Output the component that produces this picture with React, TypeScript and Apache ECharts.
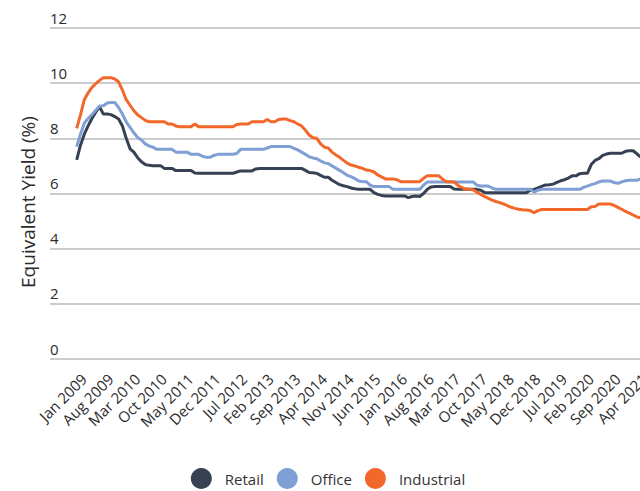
import React, { useEffect, useRef } from "react";
import * as echarts from "echarts";

const MONTHS = ["Jan", "Feb", "Mar", "Apr", "May", "Jun", "Jul", "Aug", "Sep", "Oct", "Nov", "Dec"];
// Axis runs Mar 2008 .. Jun 2021 (monthly); data starts Oct 2008
const AXIS_START_YEAR = 2008;
const AXIS_START_MONTH = 2; // Mar
const AXIS_LENGTH = 160;
const DATA_OFFSET = 7; // Oct 2008

const TICK_LABELS = [
  "Jan 2009", "Aug 2009", "Mar 2010", "Oct 2010", "May 2011", "Dec 2011", "Jul 2012",
  "Feb 2013", "Sep 2013", "Apr 2014", "Nov 2014", "Jun 2015", "Jan 2016", "Aug 2016",
  "Mar 2017", "Oct 2017", "May 2018", "Dec 2018", "Jul 2019", "Feb 2020", "Sep 2020", "Apr 2021",
];

const Y_TITLE = "Equivalent Yield (%)";

const RETAIL = [
  7.22, 7.75, 8.15, 8.45, 8.72, 8.95, 9.15, 8.88, 8.88, 8.86,
  8.79, 8.7, 8.45, 8.0, 7.62, 7.5, 7.3, 7.15, 7.05, 7.02,
  7.01, 7.01, 7.01, 6.91, 6.91, 6.91, 6.83, 6.83, 6.83, 6.83,
  6.83, 6.74, 6.73, 6.73, 6.73, 6.73, 6.73, 6.73, 6.73, 6.73,
  6.73, 6.73, 6.78, 6.82, 6.82, 6.82, 6.82, 6.89, 6.91, 6.91,
  6.91, 6.91, 6.91, 6.91, 6.91, 6.91, 6.91, 6.91, 6.91, 6.91,
  6.84, 6.76, 6.75, 6.73, 6.66, 6.59, 6.59, 6.48, 6.4, 6.32,
  6.28, 6.25, 6.2, 6.17, 6.15, 6.15, 6.15, 6.15, 6.03, 5.97,
  5.93, 5.91, 5.91, 5.91, 5.91, 5.91, 5.91, 5.85, 5.89, 5.91,
  5.89, 6.0, 6.15, 6.24, 6.25, 6.25, 6.25, 6.25, 6.25, 6.16,
  6.15, 6.15, 6.15, 6.15, 6.15, 6.15, 6.12, 6.04, 6.03, 6.03,
  6.03, 6.03, 6.03, 6.03, 6.03, 6.03, 6.03, 6.03, 6.03, 6.12,
  6.15, 6.2, 6.26, 6.31, 6.32, 6.34, 6.4, 6.46, 6.5, 6.56,
  6.64, 6.64, 6.72, 6.73, 6.73, 7.05, 7.2, 7.26, 7.38, 7.43,
  7.46, 7.46, 7.46, 7.46, 7.53, 7.55, 7.55, 7.44, 7.32,
];

const OFFICE = [
  7.7, 8.15, 8.55, 8.72, 8.86, 9.02, 9.17, 9.18, 9.28, 9.3,
  9.3, 9.12, 8.88, 8.6, 8.4, 8.2, 8.03, 7.94, 7.8, 7.72,
  7.68, 7.6, 7.6, 7.6, 7.6, 7.6, 7.5, 7.5, 7.5, 7.5,
  7.42, 7.42, 7.42, 7.35, 7.31, 7.31, 7.38, 7.42, 7.42, 7.42,
  7.42, 7.42, 7.45, 7.6, 7.6, 7.6, 7.6, 7.6, 7.6, 7.6,
  7.65, 7.7, 7.7, 7.7, 7.7, 7.7, 7.7, 7.64, 7.58, 7.5,
  7.42, 7.33, 7.29, 7.26, 7.18, 7.11, 7.09, 7.0, 6.92, 6.84,
  6.75, 6.66, 6.61, 6.54, 6.45, 6.43, 6.43, 6.3, 6.25, 6.25,
  6.25, 6.25, 6.25, 6.15, 6.15, 6.15, 6.15, 6.15, 6.15, 6.15,
  6.15, 6.3, 6.42, 6.42, 6.42, 6.42, 6.42, 6.42, 6.42, 6.42,
  6.42, 6.42, 6.42, 6.42, 6.42, 6.3, 6.27, 6.27, 6.27, 6.2,
  6.15, 6.15, 6.15, 6.15, 6.15, 6.15, 6.15, 6.15, 6.15, 6.15,
  6.05, 6.12, 6.15, 6.15, 6.15, 6.15, 6.15, 6.15, 6.15, 6.15,
  6.15, 6.15, 6.15, 6.22, 6.27, 6.32, 6.36, 6.42, 6.45, 6.45,
  6.45, 6.4, 6.37, 6.42, 6.46, 6.48, 6.48, 6.48, 6.53,
];

const INDUSTRIAL = [
  8.36, 8.85, 9.4, 9.65, 9.85, 9.98, 10.1, 10.2, 10.2, 10.2,
  10.15, 10.05, 9.75, 9.4, 9.2, 9.0, 8.85, 8.75, 8.65, 8.6,
  8.6, 8.6, 8.6, 8.6, 8.52, 8.52, 8.45, 8.42, 8.42, 8.42,
  8.42, 8.52, 8.42, 8.42, 8.42, 8.42, 8.42, 8.42, 8.42, 8.42,
  8.42, 8.42, 8.5, 8.52, 8.52, 8.52, 8.6, 8.6, 8.6, 8.6,
  8.68, 8.6, 8.6, 8.68, 8.7, 8.7, 8.64, 8.6, 8.52, 8.45,
  8.3, 8.12, 8.02, 8.0, 7.8, 7.68, 7.65, 7.5, 7.4, 7.31,
  7.2, 7.1, 7.03, 7.0, 6.95, 6.91, 6.85, 6.83, 6.78, 6.67,
  6.6, 6.53, 6.53, 6.53, 6.5, 6.43, 6.43, 6.43, 6.43, 6.43,
  6.43, 6.55, 6.64, 6.64, 6.64, 6.64, 6.52, 6.43, 6.43, 6.42,
  6.3, 6.22, 6.16, 6.15, 6.14, 6.05, 5.97, 5.89, 5.82, 5.76,
  5.71, 5.67, 5.62, 5.56, 5.5, 5.46, 5.43, 5.41, 5.4, 5.38,
  5.3, 5.38, 5.42, 5.42, 5.42, 5.42, 5.42, 5.42, 5.42, 5.42,
  5.42, 5.42, 5.42, 5.42, 5.42, 5.52, 5.53, 5.62, 5.62, 5.62,
  5.62, 5.57, 5.5, 5.43, 5.35, 5.29, 5.22, 5.15, 5.12,
];

const SERIES_NAMES = ["Retail", "Office", "Industrial"];
const SERIES_COLORS = ["#364154", "#7f9fd5", "#f2682a"];

const CATEGORIES: string[] = Array.from({ length: AXIS_LENGTH }, (_, i) => {
  const t = AXIS_START_MONTH + i;
  return `${MONTHS[t % 12]} ${AXIS_START_YEAR + Math.floor(t / 12)}`;
});

function align(values: number[]): (number | null)[] {
  return CATEGORIES.map((_, i) => {
    const k = i - DATA_OFFSET;
    return k >= 0 && k < values.length ? values[k] : null;
  });
}

const FONT = "'Open Sans', 'Noto Sans', sans-serif";

export default function App() {
  const ref = useRef<HTMLDivElement>(null);
  useEffect(() => {
    if (!ref.current) return;
    const chart = echarts.init(ref.current, undefined, { renderer: "svg" });
    const data = [RETAIL, OFFICE, INDUSTRIAL];
    chart.setOption({
      animation: false,
      backgroundColor: "#ffffff",
      textStyle: { fontFamily: FONT },
      grid: { left: 50, right: 0, top: 28, bottom: 132, containLabel: false },
      graphic: [
        {
          type: "text",
          x: 28,
          y: 202,
          rotation: Math.PI / 2,
          style: {
            text: Y_TITLE,
            fontSize: 19,
            fontFamily: FONT,
            fill: "#2b2b2b",
            align: "center",
            verticalAlign: "middle",
          },
        },
      ],
      legend: {
        data: SERIES_NAMES,
        top: 463,
        left: "center",
        icon: "circle",
        itemWidth: 21,
        itemHeight: 21,
        itemGap: 13,
        textStyle: { fontSize: 15, color: "#333333", fontFamily: FONT, padding: [0, 0, 0, 8] },
      },
      xAxis: {
        type: "category",
        data: CATEGORIES,
        boundaryGap: false,
        axisLine: { show: false },
        axisTick: { show: false },
        splitLine: { show: false },
        axisLabel: {
          interval: (_: number, value: string) => TICK_LABELS.includes(value),
          rotate: 45,
          margin: 13,
          fontSize: 15,
          color: "#2b2b2b",
          fontFamily: FONT,
          padding: [0, 6, 0, 0],
        },
      },
      yAxis: {
        type: "value",
        min: 0,
        max: 12,
        interval: 2,
        axisLine: { show: false },
        axisTick: { show: false },
        axisLabel: {
          inside: true,
          margin: 0,
          verticalAlign: "bottom",
          fontSize: 15,
          color: "#2b2b2b",
          fontFamily: FONT,
          padding: [0, 0, 3, 0],
        },
        splitLine: { lineStyle: { color: "#cccccc", width: 2 } },
      },
      series: SERIES_NAMES.map((name, i) => ({
        name,
        type: "line",
        data: align(data[i]),
        showSymbol: false,
        symbol: "none",
        connectNulls: false,
        lineStyle: { width: 3, color: SERIES_COLORS[i] },
        itemStyle: { color: SERIES_COLORS[i] },
      })),
    });
    return () => chart.dispose();
  }, []);
  return (
    <div
      style={{
        position: "fixed",
        left: 0,
        top: 0,
        width: 640,
        height: 491,
        overflow: "hidden",
        background: "#ffffff",
      }}
    >
      <div ref={ref} style={{ width: 656, height: 491 }} />
    </div>
  );
}
